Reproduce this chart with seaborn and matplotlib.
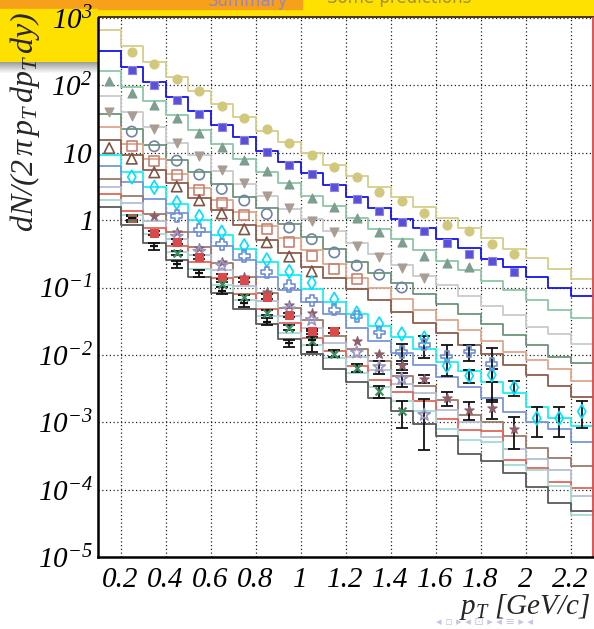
import numpy as np
import pandas as pd
import matplotlib
matplotlib.use("Agg")
import matplotlib.pyplot as plt
from matplotlib.patches import Rectangle
from matplotlib.ticker import FixedLocator, LogLocator, MultipleLocator, NullFormatter
import seaborn as sns

# pT binning [GeV/c]
pt_edges = [0.1, 0.2, 0.3, 0.4, 0.5, 0.6, 0.7, 0.8, 0.9, 1.0, 1.1, 1.2,
            1.3, 1.4, 1.5, 1.6, 1.7, 1.8, 1.9, 2.0, 2.1, 2.2, 2.3]
pt_centres = [0.15, 0.25, 0.35, 0.45, 0.55, 0.65, 0.75, 0.85, 0.95, 1.05, 1.15,
              1.25, 1.35, 1.45, 1.55, 1.65, 1.75, 1.85, 1.95, 2.05, 2.15, 2.25]

# all values are log10 of dN/(2 pi pT dpT dy)
# *_curve: model histogram (one value per bin), *_bins/*_data: measured points
khaki_curve = [2.82, 2.585, 2.35, 2.13, 1.91, 1.72, 1.53, 1.33, 1.16, 1.0, 0.82,
               0.656, 0.49, 0.34, 0.19, 0.037, -0.11, -0.26, -0.43, -0.556, -0.72, -0.877]
khaki_bins = [1, 2, 3, 4, 5, 6, 7, 8, 9, 10, 11, 12, 13, 14, 15, 16, 17, 18]
khaki_data = [2.49, 2.32, 2.095, 1.91, 1.69, 1.52, 1.35, 1.14, 0.97, 0.79, 0.636,
              0.42, 0.285, 0.11, -0.076, -0.165, -0.35, -0.50]

blue_curve = [2.51, 2.28, 2.045, 1.823, 1.615, 1.412, 1.23, 1.032, 0.86, 0.695, 0.522,
              0.34, 0.18, 0.023, -0.11, -0.278, -0.417, -0.576, -0.70, -0.85, -1.01, -1.125]
blue_bins = [1, 2, 3, 4, 5, 6, 7, 8, 9, 10, 11, 12, 13, 14, 15, 16, 17, 18]
blue_data = [2.233, 2.0, 1.783, 1.571, 1.388, 1.195, 1.007, 0.819, 0.685, 0.497, 0.32,
             0.137, -0.031, -0.165, -0.343, -0.501, -0.605, -0.77]

green_curve = [2.21, 1.97, 1.764, 1.556, 1.333, 1.13, 0.908, 0.715, 0.557, 0.359, 0.216,
               0.03, -0.13, -0.283, -0.442, -0.605, -0.738, -0.90, -1.035, -1.19, -1.33, -1.455]
green_bins = [0, 1, 2, 3, 4, 5, 6, 7, 8, 9, 10, 11, 12, 13, 14, 15, 16]
green_data = [2.07, 1.882, 1.704, 1.511, 1.289, 1.086, 0.898, 0.73, 0.537, 0.324, 0.191,
              0.028, -0.17, -0.318, -0.531, -0.64, -0.689]

grey_curve = [1.848, 1.61, 1.378, 1.15, 0.972, 0.725, 0.542, 0.354, 0.166, 0.01, -0.155,
              -0.343, -0.506, -0.664, -0.822, -0.97, -1.124, -1.27, -1.41, -1.58, -1.69, -1.84]
grey_bins = [0, 1, 2, 3, 4, 5, 6, 7, 8, 9, 10, 11, 12, 13, 14]
grey_data = [1.61, 1.546, 1.353, 1.14, 0.957, 0.75, 0.547, 0.354, 0.18, -0.007, -0.17,
             -0.382, -0.54, -0.704, -0.862]

slate_curve = [1.576, 1.353, 1.121, 0.898, 0.715, 0.542, 0.344, 0.176, -0.056, -0.244, -0.432,
               -0.615, -0.778, -0.936, -1.09, -1.243, -1.39, -1.545, -1.70, -1.85, -2.025, -2.12]
slate_bins = [1, 2, 3, 4, 5, 6, 7, 8, 9, 10, 11, 12, 13]
slate_data = [1.314, 1.096, 0.883, 0.676, 0.463, 0.29, 0.09, -0.11, -0.283, -0.48, -0.675,
              -0.81, -1.0]

salmon_curve = [1.383, 1.135, 0.913, 0.69, 0.478, 0.295, 0.117, -0.08, -0.26, -0.45, -0.65,
                -0.852, -1.01, -1.17, -1.33, -1.48, -1.63, -1.80, -1.95, -2.08, -2.21, -2.395]
salmon_bins = [1, 2, 3, 4, 5, 6, 7, 8, 9, 10, 11]
salmon_data = [1.096, 0.873, 0.676, 0.453, 0.25, 0.08, -0.135, -0.318, -0.53, -0.72, -0.877]

brown_curve = [1.19, 0.972, 0.74, 0.552, 0.329, 0.156, -0.07, -0.29, -0.49, -0.69, -0.86,
               -1.025, -1.18, -1.37, -1.52, -1.68, -1.85, -1.99, -2.15, -2.30, -2.455, -2.62]
brown_bins = [0, 1, 2, 3, 4, 5, 6, 7, 8, 9]
brown_data = [1.07, 0.913, 0.71, 0.50, 0.295, 0.10, -0.135, -0.328, -0.54, -0.76]

cyan_curve = [0.972, 0.715, 0.487, 0.235, 0.003, -0.22, -0.433, -0.616, -0.813, -1.02, -1.21,
              -1.397, -1.57, -1.738, -1.916, -2.1, -2.24, -2.41, -2.559, -2.77, -2.94, -3.063]
cyan_bins = [1, 2, 3, 4, 5, 6, 7, 8, 9, 10, 11, 12, 13, 14, 15, 16, 17, 18, 19, 20, 21]
cyan_data = [0.64, 0.487, 0.26, 0.055, -0.18, -0.38, -0.59, -0.764, -0.93, -1.174, -1.38,
             -1.54, -1.69, -1.75, -2.163, -2.31, -2.297, -2.484, -2.94, -2.94, -2.84]
cyan_err = [0, 0, 0, 0, 0, 0, 0, 0, 0, 0, 0, 0, 0, 0, 0,
            0.0011, 0.00105, 0.00085, 0.00055, 0.00055, 0.00062]

peri_curve = [0.80, 0.56, 0.31, 0.10, -0.17, -0.39, -0.59, -0.84, -1.03, -1.22, -1.40,
              -1.594, -1.80, -1.965, -2.148, -2.33, -2.47, -2.64, -2.85, -2.99, -3.10, -3.29]
peri_bins = [3, 4, 5, 6, 7, 8, 9, 10, 11, 12, 13, 14, 15, 16, 17]
peri_data = [0.06, -0.146, -0.36, -0.532, -0.774, -0.98, -1.19, -1.33, -1.43, -1.668,
             -1.96, -1.85, -2.024, -1.95, -2.135]
peri_err = [0, 0, 0, 0, 0, 0, 0, 0, 0, 0, 0.0037, 0.005, 0.0046, 0.003, 0.0053]

mauve_curve = [0.61, 0.358, 0.087, -0.17, -0.402, -0.63, -0.838, -1.075, -1.30, -1.48, -1.72,
               -1.91, -2.084, -2.31, -2.46, -2.67, -2.89, -2.99, -3.20, -3.384, -3.533, -3.656]
mauve_bins = [2, 3, 4, 5, 6, 7, 8, 9, 11, 12, 13, 14, 15, 16, 17, 18]
mauve_data = [0.06, -0.17, -0.417, -0.615, -0.838, -1.06, -1.258, -1.38, -1.80, -1.99,
              -2.148, -2.356, -2.64, -2.816, -2.79, -3.10]
mauve_err = [0, 0, 0, 0, 0, 0, 0, 0, 0, 0, 0.0011, 0.0006, 0.00052, 0.00044, 0.0005, 0.0004]

lav_curve = [0.49, 0.25, -0.01, -0.28, -0.516, -0.739, -0.976, -1.20, -1.416, -1.604, -1.82,
             -2.025, -2.23, -2.43, -2.56, -2.82, -3.0, -3.22, -3.394, -3.547, -3.716, -4.10]
lav_bins = [3, 4, 5, 8, 9, 11, 12, 13, 14]
lav_data = [-0.244, -0.467, -0.674, -1.322, -1.48, -1.965, -2.18, -2.356, -2.89]
lav_err = [0, 0, 0, 0, 0, 0, 0.0014, 0.00105, 0.0009]

red_curve = [0.39, 0.136, -0.12, -0.38, -0.625, -0.862, -1.10, -1.322, -1.52, -1.75, -1.94,
             -2.16, -2.37, -2.55, -2.69, -2.95, -3.12, -3.137, -3.567, -3.681, -3.894, -3.978]
red_bins = [1, 2, 3, 4, 5, 6, 7, 8, 9, 10]
red_data = [0.03, -0.19, -0.318, -0.55, -0.838, -0.887, -1.134, -1.406, -1.65, -1.64]
red_err = [0.08, 0.05, 0.035, 0.02, 0.011, 0.01, 0.006, 0.003, 0.0018, 0.0018]

teal_curve = [0.30, 0.077, -0.20, -0.467, -0.724, -0.961, -1.184, -1.42, -1.67, -1.85, -2.05,
              -2.27, -2.48, -2.69, -2.83, -3.10, -3.27, -3.29, -3.632, -3.706, -3.953, -4.373]
teal_bins = [1, 3, 5, 6, 7, 8, 9, 10, 11, 12, 13]
teal_data = [0.03, -0.49, -0.95, -1.144, -1.372, -1.594, -1.79, -1.98, -2.19, -2.54, -2.84]
teal_err = [0.08, 0.025, 0.009, 0.006, 0.0035, 0.002, 0.002, 0.0012, 0.00085, 0.0006, 0.00062]

black_curve = [0.195, -0.072, -0.34, -0.595, -0.847, -1.085, -1.322, -1.54, -1.77, -1.985, -2.21,
               -2.41, -2.64, -2.83, -3.02, -3.21, -3.47, -3.582, -3.755, -3.968, -4.2, -4.324]
black_bins = [1, 2, 3, 4, 5, 6, 7, 8, 9]
black_data = [0.03, -0.39, -0.655, -0.785, -1.045, -1.23, -1.505, -1.827, -1.78]
black_err = [0.13, 0.049, 0.027, 0.02, 0.011, 0.0071, 0.0038, 0.0018, 0.0057]

y_ticks = [1e-5, 1e-4, 1e-3, 1e-2, 1e-1, 1, 10, 100, 1000]
y_ticklabels = ["$10^{-5}$", "$10^{-4}$", "$10^{-3}$", "$10^{-2}$", "$10^{-1}$",
                "$1$", "$10$", "$10^{2}$", "$10^{3}$"]
x_ticks = [0.2, 0.4, 0.6, 0.8, 1.0, 1.2, 1.4, 1.6, 1.8, 2.0, 2.2]
x_ticklabels = ["0.2", "0.4", "0.6", "0.8", "1", "1.2", "1.4", "1.6", "1.8", "2", "2.2"]

# name, curve, bins, data, err, line colour, marker, face, edge, size
series = [
    ("khaki", khaki_curve, khaki_bins, khaki_data, None, "#d6ce8c", "o", "#d2c87c", "#d2c87c", 42),
    ("blue", blue_curve, blue_bins, blue_data, None, "#1414ee", "s", "#5a50d8", "#8c84e8", 38),
    ("green", green_curve, green_bins, green_data, None, "#8cc8a6", "^", "#7e9e90", "#7e9e90", 42),
    ("grey", grey_curve, grey_bins, grey_data, None, "#cacaca", "v", "#aa9d94", "#aa9d94", 42),
    ("slate", slate_curve, slate_bins, slate_data, None, "#6e9379", "o", "none", "#6e84a0", 55),
    ("salmon", salmon_curve, salmon_bins, salmon_data, None, "#dca88c", "s", "none", "#cc7f70", 52),
    ("brown", brown_curve, brown_bins, brown_data, None, "#8e5e4c", "^", "none", "#7d5546", 58),
    ("cyan", cyan_curve, cyan_bins, cyan_data, cyan_err, "#1ef0f0", "d", "none", "#00e0ff", 48),
    ("peri", peri_curve, peri_bins, peri_data, peri_err, "#7896d8", "P", "none", "#6f8fd6", 68),
    ("mauve", mauve_curve, mauve_bins, mauve_data, mauve_err, "#9c7a6a", "*", "#8f5e6c", "#8f5e6c", 50),
    ("lav", lav_curve, lav_bins, lav_data, lav_err, "#b4bed4", "*", "none", "#9a96c4", 85),
    ("red", red_curve, red_bins, red_data, red_err, "#e2675a", "s", "#d94a4a", "#d94a4a", 26),
    ("teal", teal_curve, teal_bins, teal_data, teal_err, "#a5dad5", "x", "#3e8e62", "#3e8e62", 32),
    ("black", black_curve, black_bins, black_data, black_err, "#5a5a5a", "_", "#111111", "#111111", 40),
]

sns.set_style("white")
plt.rcParams["font.family"] = ["Liberation Serif", "DejaVu Serif"]
plt.rcParams["font.style"] = "italic"
plt.rcParams["mathtext.fontset"] = "custom"
plt.rcParams["mathtext.rm"] = "Liberation Serif:italic"
plt.rcParams["mathtext.it"] = "Liberation Serif:italic"
plt.rcParams["mathtext.bf"] = "Liberation Serif:italic:bold"

W, H = 594, 629
fig = plt.figure(figsize=(W / 100, H / 100), dpi=100)
fig.patch.set_facecolor("white")
ax = fig.add_axes([98 / W, 1 - 557 / H, 495 / W, (557 - 18) / H])
ax.set_yscale("log")

# histogram curves as one long table -> seaborn step lines
rows = []
for name, curve, *_ in series:
    vals = list(curve) + [curve[-1]]
    for e, v in zip(pt_edges, vals):
        rows.append((name, e, 10.0 ** v))
curves_df = pd.DataFrame(rows, columns=["series", "pt", "y"])
palette = {s[0]: s[5] for s in series}
sns.lineplot(data=curves_df, x="pt", y="y", hue="series", hue_order=[s[0] for s in series],
             palette=palette, drawstyle="steps-post", estimator=None, sort=False,
             legend=False, lw=1.3, ax=ax, zorder=2)

for name, curve, bins, data, err, lc, mk, fc, ec, ms in series:
    x = np.array([pt_centres[b] for b in bins])
    y = 10.0 ** np.array(data)
    if err is not None:
        e = np.array(err)
        ok = e > 0
        if ok.any():
            ax.errorbar(x[ok], y[ok], yerr=e[ok], fmt="none", ecolor="#111111",
                        elinewidth=1.3, capsize=4, capthick=1.3, zorder=3)
    if fc == "none":
        ax.scatter(x, y, marker=mk, s=ms, facecolors="none", edgecolors=ec,
                   linewidths=1.2, zorder=4)
    elif mk in ("x", "_"):
        ax.scatter(x, y, marker=mk, s=ms, c=fc, linewidths=1.6, zorder=4)
    else:
        ax.scatter(x, y, marker=mk, s=ms, c=fc, edgecolors=ec, linewidths=0.8, zorder=4)

ax.set_xlim(0.1, 2.3)
ax.set_ylim(1e-5, 1e3)
ax.xaxis.set_major_locator(FixedLocator(x_ticks))
ax.set_xticklabels(x_ticklabels)
ax.xaxis.set_minor_locator(MultipleLocator(0.05))
ax.set_yticks(y_ticks)
ax.set_yticklabels(y_ticklabels)
ax.yaxis.set_minor_locator(LogLocator(base=10, subs=np.arange(2, 10)))
ax.yaxis.set_minor_formatter(NullFormatter())
ax.set_xlabel("")
ax.set_ylabel("")

ax.tick_params(axis="both", which="major", direction="in", length=10, width=1.2,
               colors="#222222", labelsize=21, labelcolor="black", pad=5)
ax.tick_params(axis="both", which="minor", direction="in", length=5, width=1.0, colors="#333333")
ax.tick_params(axis="y", which="major", pad=4)
ax.tick_params(axis="x", which="major", pad=7)
ax.grid(True, which="major", color="#222222", linestyle=(0, (1, 2)), linewidth=0.9)
ax.set_axisbelow(True)

for side in ("left", "bottom"):
    ax.spines[side].set_color("black")
    ax.spines[side].set_linewidth(1.8)
ax.spines["top"].set_visible(False)
ax.spines["right"].set_color("#d84848")
ax.spines["right"].set_linewidth(1.3)

# slide header pieces behind the plot
fig.add_artist(Rectangle((0, 1 - 17 / H), 1, 17 / H, transform=fig.transFigure,
                         color="#ffe100", zorder=-2))
fig.add_artist(Rectangle((0, 1 - 9 / H), 302 / W, 9 / H, transform=fig.transFigure,
                         color="#f6a01c", zorder=-1))
fig.add_artist(Rectangle((0, 1 - 62 / H), 97 / W, 53 / H, transform=fig.transFigure,
                         color="#ffe100", zorder=-1))
for k in range(12):
    g = 0.62 + 0.38 * k / 11
    fig.add_artist(Rectangle((0, 1 - (63 + k) / H), 97 / W, 1 / H, transform=fig.transFigure,
                             color=(g, g, g), lw=0, zorder=-1))
fig.add_artist(Rectangle((98 / W, 1 - 17.5 / H), 1 - 98 / W, 1.5 / H, transform=fig.transFigure,
                         color="#4a3a1a", lw=0, zorder=-1))
fig.text(208 / W, 1 - 6 / H, "Summary", family="DejaVu Sans", style="normal",
         fontsize=12, color="#9a86b8", va="baseline", ha="left")
fig.text(327 / W, 1 - 3 / H, "Some predictions", family="DejaVu Sans", style="normal",
         fontsize=12, color="#a0903a", va="baseline", ha="left")

fig.text(25 / W, 1 - 122 / H, r"$dN/(2\,\pi\,p_{T}\,dp_{T}\,dy)$", rotation=90,
         ha="center", va="center", fontsize=23, zorder=5)
fig.text(436 / W, 1 - 622 / H, "◂ ▫ ▸ ◂ ⊡ ▸ ◂ ≡ ▸ ◂", family="DejaVu Sans", style="normal",
         fontsize=8, color="#c4c4e4", ha="left", va="center")
fig.text(590 / W, 1 - 607 / H, r"$p_{T}\ [GeV/c]$", ha="right", va="center",
         fontsize=21, zorder=5)

fig.savefig("out.png", dpi=100, facecolor=fig.get_facecolor())
